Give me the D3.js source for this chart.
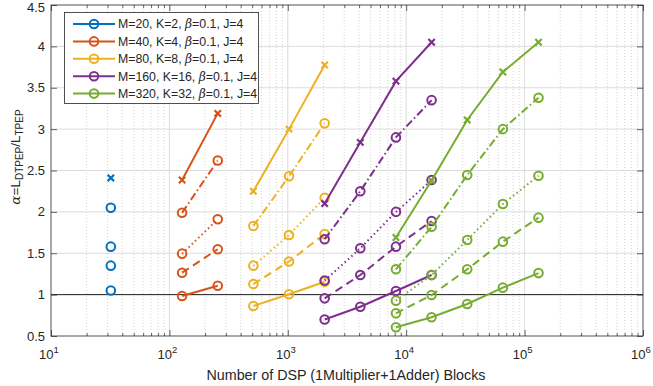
<!DOCTYPE html>
<html><head><meta charset="utf-8">
<script src="https://cdn.jsdelivr.net/npm/d3@7"></script>
<style>
html,body{margin:0;padding:0;background:#fff;}
svg{display:block;font-family:"Liberation Sans",Arial,Helvetica,sans-serif;}
</style></head>
<body>
<svg id="c" width="653" height="386"></svg>
<script>
// ---- data ----
const seriesLabels = ["M=20, K=2, ", "M=40, K=4, ", "M=80, K=8, ", "M=160, K=16, ", "M=320, K=32, "];
const seriesColors = ["#0072BD", "#D95319", "#EDB120", "#7E2F8E", "#77AC30"];
const xValues = [
  [32],
  [128, 256],
  [512, 1024, 2048],
  [2048, 4096, 8192, 16384],
  [8192, 16384, 32768, 65536, 131072]
];
// solid line, circle markers (bottom curve)
const solidO = [[1.05],[0.983,1.108],[0.863,1.004,1.156],[0.70,0.854,1.044,1.237],[0.605,0.726,0.887,1.084,1.26]];
// dashed, circle markers
const dashedO = [[1.35],[1.265,1.548],[1.128,1.40,1.733],[0.955,1.237,1.58,1.89],[0.774,0.995,1.306,1.64,1.93]];
// dotted, circle markers
const dottedO = [[1.58],[1.495,1.91],[1.35,1.72,2.17],[1.17,1.56,2.00,2.385],[0.927,1.237,1.66,2.095,2.437]];
// dash-dot, circle markers
const dashDotO = [[2.05],[1.99,2.62],[1.83,2.43,3.07],[1.67,2.25,2.90,3.35],[1.306,1.82,2.446,3.0,3.38]];
// solid line, x markers (top curve)
const solidX = [[2.41],[2.385,3.19],[2.25,3.0,3.775],[2.10,2.84,3.58,4.05],[1.69,2.38,3.11,3.69,4.05]];
const yTicks = [0.5,1,1.5,2,2.5,3,3.5,4,4.5];
const xTickExps = [1,2,3,4,5,6];
const refLine = 1;

// ---- layout ----
const L = 51, R = 643, T = 5, B = 336;
const svg = d3.select("#c");
const x = d3.scaleLog().domain([10, 1e6]).range([L, R]);
const y = d3.scaleLinear().domain([0.5, 4.5]).range([B, T]);

// grid
const g = svg.append("g");
const minorX = [];
for (let e = 1; e < 6; e++) for (let m = 2; m <= 9; m++) minorX.push(m * Math.pow(10, e));
g.selectAll(".mg").data(minorX).enter().append("line")
  .attr("x1", d => x(d)).attr("x2", d => x(d)).attr("y1", T).attr("y2", B)
  .attr("stroke", "#c4c4c4").attr("stroke-width", 0.7).attr("stroke-dasharray", "1,2");
g.selectAll(".Mgx").data(xTickExps.slice(1, -1)).enter().append("line")
  .attr("x1", d => x(Math.pow(10, d))).attr("x2", d => x(Math.pow(10, d))).attr("y1", T).attr("y2", B)
  .attr("stroke", "#dcdcdc").attr("stroke-width", 1);
g.selectAll(".Mgy").data(yTicks.slice(1, -1)).enter().append("line")
  .attr("x1", L).attr("x2", R).attr("y1", d => y(d)).attr("y2", d => y(d))
  .attr("stroke", "#dcdcdc").attr("stroke-width", 1);

// reference line y=1
svg.append("line").attr("x1", L).attr("x2", R).attr("y1", y(refLine)).attr("y2", y(refLine))
  .attr("stroke", "#222").attr("stroke-width", 1);

// axes via d3 axis (inward ticks)
const xAxisB = d3.axisBottom(x).tickValues(xTickExps.map(e => Math.pow(10, e))).tickSize(-6).tickFormat("");
const xAxisT = d3.axisTop(x).tickValues(xTickExps.map(e => Math.pow(10, e))).tickSize(-6).tickFormat("");
const xMinB = d3.axisBottom(x).tickValues(minorX).tickSize(-3).tickFormat("");
const xMinT = d3.axisTop(x).tickValues(minorX).tickSize(-3).tickFormat("");
const yAxisL = d3.axisLeft(y).tickValues(yTicks).tickSize(-6).tickFormat("");
const yAxisR = d3.axisRight(y).tickValues(yTicks).tickSize(-6).tickFormat("");
function styleAx(sel) {
  sel.select(".domain").remove();
  sel.selectAll("line").attr("stroke", "#262626").attr("stroke-width", 0.7);
}
svg.append("g").attr("transform", `translate(0,${B})`).call(xAxisB).call(styleAx);
svg.append("g").attr("transform", `translate(0,${T})`).call(xAxisT).call(styleAx);
svg.append("g").attr("transform", `translate(0,${B})`).call(xMinB).call(styleAx);
svg.append("g").attr("transform", `translate(0,${T})`).call(xMinT).call(styleAx);
svg.append("g").attr("transform", `translate(${L},0)`).call(yAxisL).call(styleAx);
svg.append("g").attr("transform", `translate(${R},0)`).call(yAxisR).call(styleAx);
svg.append("rect").attr("x", L).attr("y", T).attr("width", R - L).attr("height", B - T)
  .attr("fill", "none").attr("stroke", "#262626").attr("stroke-width", 0.8);

// tick labels
svg.selectAll(".yl").data(yTicks).enter().append("text")
  .attr("x", L - 6).attr("y", d => Math.max(y(d) + 4.5, 12)).attr("text-anchor", "end")
  .attr("font-size", 13).attr("fill", "#262626").text(d => d);
const xl = svg.selectAll(".xl").data(xTickExps).enter().append("text")
  .attr("x", d => x(Math.pow(10, d)) - 2).attr("y", B + 23).attr("text-anchor", "middle")
  .attr("font-size", 13).attr("fill", "#262626");
xl.append("tspan").text("10");
xl.append("tspan").attr("dy", -6).attr("font-size", 9.5).text(d => d);

// axis labels
svg.append("text").attr("x", 346).attr("y", 380).attr("text-anchor", "middle")
  .attr("font-size", 14.3).attr("fill", "#262626").text("Number of DSP (1Multiplier+1Adder) Blocks");
const yl = svg.append("text").attr("transform", `translate(20,${157}) rotate(-90)`)
  .attr("text-anchor", "middle").attr("font-size", 13.5).attr("fill", "#262626");
yl.append("tspan").attr("font-family", "DejaVu Serif, serif").attr("font-style", "italic").text("α");
yl.append("tspan").text("=L");
yl.append("tspan").attr("dy", 3).attr("font-size", 10).text("DTPEP");
yl.append("tspan").attr("dy", -3).text("/L");
yl.append("tspan").attr("dy", 3).attr("font-size", 10).text("TPEP");

// lines
const styles = [
  {vals: solidO, dash: null, marker: "o"},
  {vals: dashedO, dash: "8,5", marker: "o"},
  {vals: dottedO, dash: "1.5,3", marker: "o"},
  {vals: dashDotO, dash: "8,3,1.5,3", marker: "o"},
  {vals: solidX, dash: null, marker: "x"}
];
const lineGen = d3.line().x(d => x(d[0])).y(d => y(d[1]));
const plot = svg.append("g");
styles.forEach(st => {
  seriesColors.forEach((col, i) => {
    const pts = xValues[i].map((xv, j) => [xv, st.vals[i][j]]);
    if (pts.length > 1) {
      plot.append("path").datum(pts).attr("d", lineGen).attr("fill", "none")
        .attr("stroke", col).attr("stroke-width", 2)
        .attr("stroke-dasharray", st.dash);
    }
    if (st.marker === "o") {
      plot.selectAll(null).data(pts).enter().append("circle")
        .attr("cx", d => x(d[0])).attr("cy", d => y(d[1])).attr("r", 4.3)
        .attr("fill", "none").attr("stroke", col).attr("stroke-width", 2);
    } else {
      const s = 3.2;
      plot.selectAll(null).data(pts).enter().append("path")
        .attr("d", d => { const cx = x(d[0]), cy = y(d[1]);
          return `M${cx-s},${cy-s}L${cx+s},${cy+s}M${cx-s},${cy+s}L${cx+s},${cy-s}`; })
        .attr("stroke", col).attr("stroke-width", 2.2).attr("fill", "none");
    }
  });
});

// legend
const lg = svg.append("g");
lg.append("rect").attr("x", 64.5).attr("y", 12.5).attr("width", 194).attr("height", 91)
  .attr("fill", "#fff").attr("stroke", "#262626").attr("stroke-width", 0.8);
seriesLabels.forEach((lab, i) => {
  const yy = 24 + i * 17.4;
  lg.append("line").attr("x1", 73).attr("x2", 115).attr("y1", yy).attr("y2", yy)
    .attr("stroke", seriesColors[i]).attr("stroke-width", 2);
  lg.append("circle").attr("cx", 94).attr("cy", yy).attr("r", 4.3)
    .attr("fill", "none").attr("stroke", seriesColors[i]).attr("stroke-width", 2);
  const t = lg.append("text").attr("x", 118).attr("y", yy + 4.3).attr("font-size", 12.3).attr("fill", "#262626");
  t.append("tspan").text(lab);
  t.append("tspan").attr("font-family", "DejaVu Serif, serif").attr("font-style", "italic").text("β");
  t.append("tspan").text("=0.1, J=4");
});
</script>
</body></html>
